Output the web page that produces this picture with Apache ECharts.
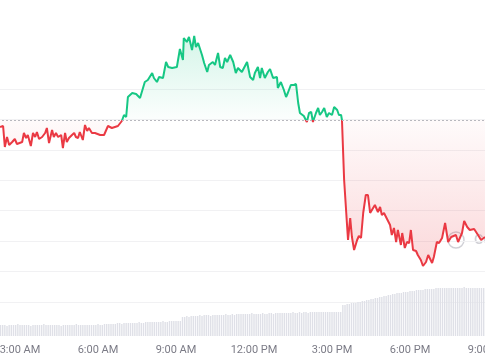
<!DOCTYPE html>
<html>
<head>
<meta charset="utf-8">
<script src="https://cdn.jsdelivr.net/npm/echarts@6/dist/echarts.min.js"></script>
<style>
html,body{margin:0;padding:0;background:#fff;}
#main{width:485px;height:360px;}
</style>
</head>
<body>
<div id="main"></div>
<script>
// Time in minutes after midnight, price values
const priceTimes = [134,141,145,150,155,162,168,173,185,189,194,198,205,210,215,219,224,231,238,242,247,254,258,263,268,275,279,284,288,293,300,305,309,314,318,325,330,335,339,346,353,365,374,383,392,399,406,415,420,425,429,439,448,457,468,475,485,489,496,501,510,517,522,531,542,549,556,558,565,570,577,582,586,591,600,605,612,616,625,630,637,642,648,653,658,665,672,678,683,692,704,711,718,722,729,734,738,745,752,757,764,773,775,782,789,794,798,805,812,817,822,826,835,842,847,852,856,863,868,872,877,882,888,893,900,905,912,916,921,923,928,935,937,942,946,951,958,962,967,972,978,983,988,992,999,1006,1011,1015,1020,1027,1034,1038,1043,1048,1052,1059,1062,1068,1073,1078,1082,1087,1094,1098,1105,1110,1117,1122,1131,1135,1142,1147,1154,1161,1168,1175,1179,1186,1191,1200,1205,1212,1218,1228,1237,1244,1253];
const priceValues = [2493,2494,2473,2483,2475,2478,2481,2476,2478,2487,2482,2485,2474,2487,2483,2488,2481,2483,2487,2492,2477,2490,2483,2487,2483,2485,2472,2487,2478,2482,2485,2487,2483,2482,2488,2480,2495,2489,2492,2487,2487,2485,2485,2494,2492,2493,2494,2499,2505,2503,2523,2527,2526,2522,2538,2540,2547,2542,2538,2543,2542,2558,2553,2552,2553,2571,2560,2582,2578,2583,2570,2584,2573,2577,2565,2557,2548,2555,2558,2555,2567,2553,2552,2562,2558,2565,2558,2547,2552,2548,2558,2543,2540,2547,2553,2542,2552,2542,2548,2551,2542,2543,2532,2538,2530,2523,2527,2535,2535,2536,2517,2507,2504,2498,2507,2508,2498,2507,2512,2505,2508,2512,2503,2507,2505,2513,2510,2505,2505,2500,2440,2393,2380,2402,2383,2370,2380,2384,2382,2407,2425,2425,2407,2405,2415,2408,2413,2405,2407,2401,2395,2385,2392,2378,2390,2375,2387,2372,2378,2377,2390,2370,2369,2365,2360,2354,2358,2365,2357,2363,2378,2377,2382,2397,2378,2383,2382,2385,2378,2387,2399,2393,2390,2391,2385,2380,2383];
const basePrice = 2500;

// Volume bars: one every 5 minutes starting at 02:15
const volumeStart = 135;
const volumeStep = 5;
const volumeValues = [
11,11,11,10,11,11,11,11,12,11,
11,11,11,11,10,11,11,11,11,11,
12,11,11,11,11,11,11,11,10,11,
11,11,11,11,11,12,11,11,11,11,
11,11,11,11,11,12,11,11,12,12,
12,12,12,12,13,13,12,13,13,13,
13,13,13,13,14,13,13,14,14,14,
14,14,14,14,14,15,14,14,15,15,
15,15,15,15,19,19,20,19,20,20,
20,20,21,20,21,21,21,20,21,21,
21,21,21,21,22,21,21,22,21,22,
22,22,22,22,22,22,23,22,22,22,
22,23,22,22,23,23,22,23,23,23,
23,23,23,23,23,24,23,23,24,23,
24,24,23,24,24,24,24,24,24,24,
24,24,24,24,24,24,24,24,
31,31,32,32,33,33,33,34,
34,35,35,36,36,37,37,38,38,39,
39,40,40,41,41,42,42,43,43,43,
44,44,44,45,45,45,46,46,46,46,
47,47,47,47,47,48,48,48,48,48,
48,48,48,48,48,48,48,48,49,48,
48,48,48,48,48,48,48,48];

const axisMin = 0, axisMax = 1260, axisInterval = 180;
const green = '#16c784', red = '#ea3943';

const priceData = priceTimes.map((t, i) => [t, priceValues[i]]);
const volumeData = volumeValues.map((v, i) => [volumeStart + i * volumeStep, v]);

function fmtTime(v) {
  const h = Math.floor(v / 60), m = v % 60;
  const ap = h < 12 ? 'AM' : 'PM';
  const hh = h % 12 === 0 ? 12 : h % 12;
  return hh + ':' + String(m).padStart(2, '0') + ' ' + ap;
}

const chart = echarts.init(document.getElementById('main'));
const gridBase = {containLabel: false, outerBoundsMode: 'none'};
const option = {
  animation: false,
  backgroundColor: '#ffffff',
  grid: [
    Object.assign({left: -58, right: -3, top: 0, bottom: 24}, gridBase),
    Object.assign({left: -58, right: -3, bottom: 24, height: 60}, gridBase),
    Object.assign({left: 0, right: 0, top: 89, bottom: 58}, gridBase)
  ],
  xAxis: [
    {type: 'value', gridIndex: 0, min: axisMin, max: axisMax, interval: axisInterval, show: false},
    {type: 'value', gridIndex: 1, min: axisMin, max: axisMax, interval: axisInterval,
     axisLine: {show: false}, axisTick: {show: false}, splitLine: {show: false},
     axisLabel: {formatter: fmtTime, color: '#7b7b86', fontSize: 11, fontFamily: 'Roboto', margin: 9,
                 showMinLabel: true, showMaxLabel: true, hideOverlap: false}},
    {type: 'value', gridIndex: 2, min: 0, max: 1, show: false}
  ],
  yAxis: [
    {type: 'value', gridIndex: 0, min: 2284, max: 2620, show: false},
    {type: 'value', gridIndex: 1, min: 0, max: 60, show: false},
    {type: 'value', gridIndex: 2, min: 0, max: 7, interval: 1,
     axisLine: {show: false}, axisTick: {show: false}, axisLabel: {show: false},
     splitLine: {show: true, lineStyle: {color: '#f1f1f3', width: 1}}}
  ],
  graphic: [
    {type: 'circle', z: 0, shape: {cx: 456, cy: 240, r: 8}, style: {fill: 'none', stroke: '#d0d0d6', lineWidth: 1.5}},
    {type: 'text', z: 0, x: 474, y: 240, style: {text: 'CoinGecko', fill: '#d0d0d6', font: '600 13px Inter', verticalAlign: 'middle'}}
  ],
  series: [
    {
      type: 'bar', xAxisIndex: 1, yAxisIndex: 1, data: volumeData, barWidth: 1.4,
      itemStyle: {color: '#dfe0e7'}, silent: true, z: 1
    },
    {
      id: 'price', type: 'line', xAxisIndex: 0, yAxisIndex: 0, data: priceData,
      symbol: 'none', lineStyle: {width: 2, color: green}, z: 3, silent: true,
      areaStyle: {origin: basePrice, color: 'rgba(0,0,0,0)'},
      markLine: {
        silent: true, symbol: 'none', label: {show: false},
        lineStyle: {type: [2, 2], color: '#b8b8be', width: 1},
        data: [{yAxis: basePrice}]
      }
    }
  ]
};
chart.setOption(option);

const pMax = Math.max(...priceValues), pMin = Math.min(...priceValues);
const yTop = chart.convertToPixel({yAxisIndex: 0}, pMax);
const yBase = chart.convertToPixel({yAxisIndex: 0}, basePrice);
const yBot = chart.convertToPixel({yAxisIndex: 0}, pMin);
const b = (yBase - yTop) / (yBot - yTop);
chart.setOption({
  series: [{
    id: 'price',
    lineStyle: {color: {
      type: 'linear', x: 0, y: yTop, x2: 0, y2: yBot, global: true,
      colorStops: [
        {offset: 0, color: green}, {offset: b, color: green},
        {offset: b, color: red}, {offset: 1, color: red}
      ]
    }},
    areaStyle: {origin: basePrice, color: {
      type: 'linear', x: 0, y: yTop, x2: 0, y2: yBot, global: true,
      colorStops: [
        {offset: 0, color: 'rgba(22,199,132,0.26)'},
        {offset: b, color: 'rgba(22,199,132,0.02)'},
        {offset: b, color: 'rgba(234,57,67,0.03)'},
        {offset: 1, color: 'rgba(234,57,67,0.28)'}
      ]
    }}
  }]
});
</script>
</body>
</html>
